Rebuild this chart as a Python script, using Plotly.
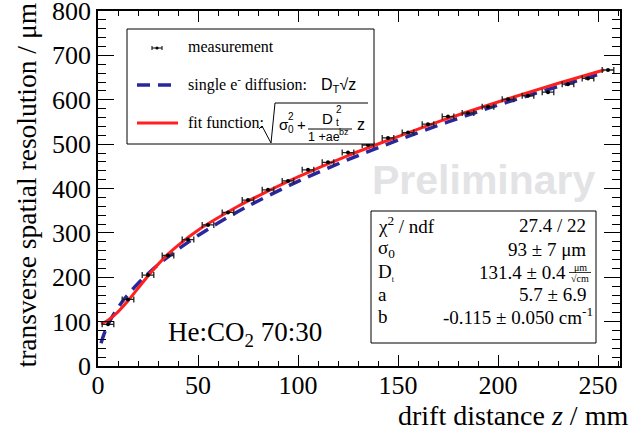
import plotly.graph_objects as go

# ---------------- data ----------------
z_data = [5, 15, 25, 35, 45, 55, 65, 75, 85, 95, 105, 115, 125, 135, 145,
          155, 165, 175, 185, 195, 205, 215, 225, 235, 245, 255]
res_data = [94, 150, 205, 249, 285, 318, 346, 374, 397, 417, 442, 459, 481,
            498, 514, 526, 545, 562, 570, 584, 601, 609, 617, 635, 648, 667]
z_halfwidth = 2.9

z_curve = [1.5, 3, 5, 7.5, 10, 12.5, 15, 20, 25, 30, 35, 40, 50, 60, 70, 80,
           100, 125, 150, 175, 200, 225, 253]
fit_curve = [95, 98, 103, 112, 122, 134, 147, 175, 203, 229, 252, 272, 306,
             334, 360, 383, 426, 474, 517, 558, 595, 630, 667]
diffusion_curve = [51, 72, 93, 114, 131, 147, 161, 186, 208, 228, 246, 263,
                   294, 322, 348, 372, 416, 465, 509, 550, 588, 623, 661]

x_ticks = [0, 50, 100, 150, 200, 250]
y_ticks = [0, 100, 200, 300, 400, 500, 600, 700, 800]

stats_labels = ["χ<sup>2</sup> / ndf", "σ<sub>0</sub>", "D<sub><span style='font-size:8px'>t</span></sub>", "a", "b"]
stats_values = ["27.4 / 22", "93 ± 7 μm", "131.4 ± 0.4", "5.7 ± 6.9", "-0.115 ± 0.050 cm<sup>-1</sup>"]

SERIF = "Liberation Serif"
SANS = "Liberation Sans"
RED = "#ff1f1f"
BLUE = "#28289c"

# plot-area geometry in pixels
L, R, T, B = 98, 620, 11, 366
W, H = R - L, B - T


def fx(p):
    return (p - L) / W


def fy(p):
    return (B - p) / H


fig = go.Figure()

fig.add_trace(go.Scatter(x=z_curve, y=diffusion_curve, mode="lines",
                         line=dict(color=BLUE, width=3.5, dash="13px,8px", shape="spline"),
                         hoverinfo="skip", showlegend=False))
fig.add_trace(go.Scatter(x=z_curve, y=fit_curve, mode="lines",
                         line=dict(color=RED, width=3, shape="spline"),
                         hoverinfo="skip", showlegend=False))
fig.add_trace(go.Scatter(x=z_data, y=res_data, mode="markers",
                         marker=dict(color="black", size=4),
                         error_x=dict(type="constant", value=z_halfwidth, color="#222222",
                                      thickness=1.3, width=3),
                         hoverinfo="skip", showlegend=False))

annotations = []
shapes = []


def txt(text, x, y, size, xanchor="left", font=SERIF, color="black", yanchor="middle", angle=0):
    annotations.append(dict(text=text, x=fx(x), y=fy(y), xref="paper", yref="paper",
                            xanchor=xanchor, yanchor=yanchor, showarrow=False,
                            textangle=angle, borderpad=0,
                            font=dict(family=font, size=size, color=color)))


def line(x0, y0, x1, y1, color="black", width=1, dash="solid"):
    shapes.append(dict(type="line", xref="paper", yref="paper",
                       x0=fx(x0), y0=fy(y0), x1=fx(x1), y1=fy(y1),
                       line=dict(color=color, width=width, dash=dash)))


# Preliminary watermark
txt("<b>Preliminary</b>", 484, 180, 41, xanchor="center", font=SANS, color="#e3e3e6")

# legend box
shapes.append(dict(type="rect", xref="paper", yref="paper",
                   x0=fx(127), y0=fy(144), x1=fx(374), y1=fy(29),
                   line=dict(color="black", width=1), fillcolor="white"))
# measurement symbol
line(152, 48, 162, 48, color="#222222", width=1.2)
line(152, 46, 152, 50, color="#222222", width=1.2)
line(162, 46, 162, 50, color="#222222", width=1.2)
shapes.append(dict(type="circle", xref="paper", yref="paper",
                   x0=fx(155.5), y0=fy(49.5), x1=fx(158.5), y1=fy(46.5),
                   fillcolor="black", line=dict(width=0)))
txt("measurement", 187, 47, 16)
# diffusion line
line(137, 85, 176, 85, color=BLUE, width=3.5, dash="13px,8px")
txt("single e<sup>-</sup> diffusion:", 187, 84, 16)
txt("D<sub>T</sub>√z", 320, 85, 16, font=SANS)
# fit line
line(137, 123, 178, 123, color=RED, width=3)
txt("fit function:", 187, 122, 16)
# radical sign
shapes.append(dict(type="path", xref="paper", yref="paper",
                   path=f"M {fx(259)},{fy(129)} L {fx(262)},{fy(126)} L {fx(271)},{fy(143)} "
                        f"L {fx(275)},{fy(103)} L {fx(368)},{fy(103)}",
                   line=dict(color="black", width=1)))
txt("σ", 278, 124, 15, font=SANS)
txt("2", 287, 116, 10, font=SANS)
txt("0", 287, 129, 10, font=SANS)
txt("+", 296, 124, 15, font=SANS)
txt("D", 327, 118, 15, xanchor="center", font=SANS)
txt("2", 335, 110, 10, font=SANS)
txt("t", 335, 122, 10, font=SANS)
line(308, 129, 352, 129, width=1)
txt("1 +ae", 307, 137, 12.5, font=SANS)
txt("bz", 338, 132, 9, font=SANS)
txt("z", 356, 124, 16, font=SANS)

# statistics box
shapes.append(dict(type="rect", xref="paper", yref="paper",
                   x0=fx(371), y0=fy(343), x1=fx(596), y1=fy(211),
                   line=dict(color="black", width=1), fillcolor="white"))
row_y = [225, 249, 272, 294, 316]
for lab, val, yy in zip(stats_labels, stats_values, row_y):
    txt(lab, 377, yy, 19)
    if val.startswith("131.4"):
        txt(val, 567, yy, 19, xanchor="right")
    elif val.endswith("</sup>"):
        txt(val, 594, yy, 19, xanchor="right")
    else:
        txt(val, 587, yy, 19, xanchor="right")
# μm / √cm small fraction
txt("μm", 580, 267, 10, xanchor="center")
line(569, 272.5, 591, 272.5, width=0.8)
txt("√cm", 580, 278, 10, xanchor="center")

# gas label
txt("He:CO<sub>2</sub> 70:30", 167, 334, 27)

# axis titles
txt("transverse spatial resolution / μm", 26, 2, 27.5, xanchor="center", yanchor="top", angle=-90)
txt("drift distance <i>z</i> / mm", 629, 415, 28, xanchor="right")

fig.update_layout(
    width=638, height=432,
    margin=dict(l=L, r=638 - R, t=T, b=432 - B, autoexpand=False),
    paper_bgcolor="white", plot_bgcolor="white",
    showlegend=False,
    annotations=annotations,
    shapes=shapes,
    font=dict(family=SERIF, color="black"),
    xaxis=dict(range=[0, 261], tickvals=x_ticks, ticks="inside", ticklen=11, tickwidth=1,
               tickcolor="black", showline=True, linecolor="black", linewidth=1.5,
               mirror="allticks", showgrid=False, zeroline=False, automargin=False,
               ticklabeloverflow="allow", ticklabelstandoff=-5,
               tickfont=dict(family=SERIF, size=26, color="black"),
               minor=dict(dtick=10, ticks="inside", ticklen=5.5, tickcolor="black", tickwidth=1,
                          showgrid=False)),
    yaxis=dict(range=[0, 800], tickvals=y_ticks, ticks="inside", ticklen=16, tickwidth=1,
               tickcolor="black", showline=True, linecolor="black", linewidth=1.5,
               mirror="allticks", showgrid=False, zeroline=False, automargin=False,
               ticklabeloverflow="allow",
               tickfont=dict(family=SERIF, size=26, color="black"),
               minor=dict(dtick=20, ticks="inside", ticklen=8, tickcolor="black", tickwidth=1,
                          showgrid=False)),
)

fig.write_html("out.html", config={"displayModeBar": False},
               post_script="document.body.style.margin='0';document.body.style.padding='0';")
